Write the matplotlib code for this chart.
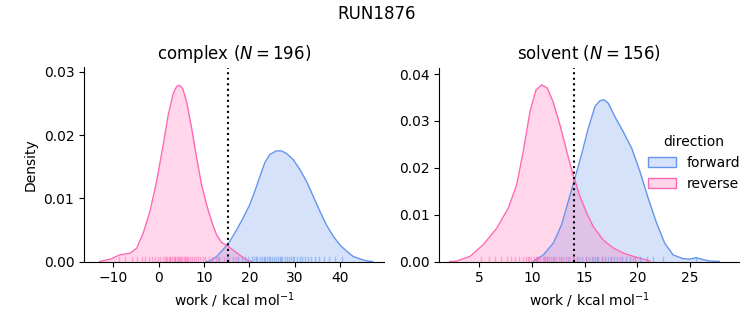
import numpy as np
import matplotlib
matplotlib.use('Agg')
import matplotlib.pyplot as plt
from matplotlib.patches import Patch
from matplotlib.colors import to_rgba

# colours used for the two directions
c_fwd = '#6495ED'
c_rev = '#FF69B4'

# ---- complex panel, density curves ----
cx_rev_x = [-13.0, -10.5, -8.53, -6.33, -4.85, -3.4, -1.92, -0.44, 1.01, 2.12, 3.22, 3.97,
            4.54, 5.29, 6.17, 7.28, 8.38, 9.48, 10.58, 11.69, 12.79, 13.9, 15.35, 16.8,
            18.3, 19.8, 20.5]
cx_rev_d = [0.0, 0.0004, 0.00106, 0.0013, 0.0021, 0.0045, 0.0079, 0.0127, 0.0185, 0.0232,
            0.0266, 0.0277, 0.0279, 0.0274, 0.0253, 0.0211, 0.0164, 0.0121, 0.0090,
            0.0063, 0.0042, 0.0030, 0.0024, 0.0016, 0.0008, 0.0001, 0.0]
cx_fwd_x = [10.5, 11.3, 12.8, 14.25, 15.7, 17.2, 18.65, 20.1, 21.2, 22.3, 23.4, 24.5,
            25.9, 27.1, 28.2, 29.7, 31.2, 32.6, 34.1, 35.6, 37.0, 38.5, 40.0, 41.5,
            42.9, 44.4, 45.8, 47.2]
cx_fwd_d = [0.0, 0.00005, 0.0008, 0.0019, 0.0032, 0.0050, 0.0069, 0.0090, 0.0111, 0.0134,
            0.0156, 0.0169, 0.0175, 0.0175, 0.0171, 0.0161, 0.0145, 0.0127, 0.0103,
            0.0079, 0.0058, 0.0040, 0.0026, 0.0016, 0.0008, 0.0004, 0.0001, 0.0]
# rug ticks (approximate sample positions)
cx_rev_rug = [-8.8, -7.5, -5.9, -4.8, -3.6, -2.9, -2.1, -1.5, -0.8, -0.2, 0.4, 0.9, 1.3,
              1.6, 1.8, 2.2, 2.4, 2.6, 3.0, 3.3, 3.5, 3.7, 4.0, 4.3, 4.6, 4.8, 4.9,
              5.2, 5.5, 5.8, 6.1, 6.3, 6.5, 6.9, 7.3, 7.7, 8.2, 8.6, 9.1, 9.7, 10.3,
              11.0, 11.8, 12.6, 13.4, 14.4, 15.6, 17.1]
cx_fwd_rug = [13.2, 15.0, 16.3, 17.4, 18.3, 19.1, 19.8, 20.5, 21.1, 21.4, 21.7, 22.3,
              22.9, 23.2, 23.4, 23.9, 24.4, 24.6, 24.9, 25.4, 25.9, 26.3, 26.8, 27.0,
              27.3, 27.8, 28.3, 28.8, 29.3, 29.6, 29.9, 30.5, 31.1, 31.7, 32.3, 33.0,
              33.7, 34.5, 35.4, 36.4, 37.6, 38.9, 40.4]
cx_dG = 15.4

# ---- solvent panel ----
sv_rev_x = [2.2, 2.86, 4.12, 5.38, 6.65, 7.75, 8.55, 9.17, 9.81, 10.38, 10.92, 11.45,
            12.0, 12.66, 13.3, 13.9, 14.55, 15.2, 15.8, 16.76, 17.7, 18.66, 19.9, 21.2]
sv_rev_d = [0.0, 0.0001, 0.0011, 0.0036, 0.0071, 0.0114, 0.0164, 0.0235, 0.0320, 0.0366,
            0.0377, 0.0370, 0.0341, 0.0291, 0.0235, 0.0185, 0.0139, 0.0103, 0.0075,
            0.0046, 0.0029, 0.0018, 0.0009, 0.0001]
sv_fwd_x = [10.12, 11.07, 12.02, 12.8, 13.44, 14.08, 14.7, 15.34, 15.98, 16.45, 16.83,
            17.24, 17.87, 18.66, 19.46, 20.25, 21.03, 21.83, 22.6, 23.4, 24.35, 24.95,
            25.6, 26.25, 26.9, 27.8]
sv_fwd_d = [0.0, 0.0014, 0.0039, 0.0078, 0.0128, 0.0178, 0.0228, 0.0284, 0.0331, 0.0343,
            0.0345, 0.0338, 0.0309, 0.0277, 0.0242, 0.0192, 0.0135, 0.0082, 0.0039,
            0.0014, 0.0006, 0.0005, 0.0008, 0.0004, 0.0001, 0.0]
sv_rev_rug = [5.2, 5.9, 6.5, 7.1, 7.6, 8.0, 8.4, 8.8, 9.1, 9.4, 9.6, 9.7, 9.9, 10.2,
              10.4, 10.5, 10.6, 10.8, 11.0, 11.1, 11.2, 11.4, 11.6, 11.8, 12.0, 12.3,
              12.6, 12.9, 13.2, 13.6, 14.0, 14.5, 15.1, 15.8, 16.6, 17.5, 18.4, 19.6]
sv_fwd_rug = [10.5, 11.4, 12.1, 12.8, 13.4, 13.9, 14.3, 14.7, 15.1, 15.4, 15.7, 16.0,
              16.2, 16.3, 16.6, 16.9, 17.2, 17.5, 17.8, 18.1, 18.5, 18.9, 19.3, 19.8,
              20.3, 20.9, 21.5, 22.4, 25.6]
sv_dG = 14.0

panels = [
    ('complex', 196, cx_fwd_x, cx_fwd_d, cx_rev_x, cx_rev_d, cx_fwd_rug, cx_rev_rug, cx_dG,
     (-16.46, 49.7), (0, 0.0307), [-10, 0, 10, 20, 30, 40], [0.0, 0.01, 0.02, 0.03]),
    ('solvent', 156, sv_fwd_x, sv_fwd_d, sv_rev_x, sv_rev_d, sv_fwd_rug, sv_rev_rug, sv_dG,
     (1.2, 29.68), (0, 0.0414), [5, 10, 15, 20, 25], [0.0, 0.01, 0.02, 0.03, 0.04]),
]

fig = plt.figure(figsize=(7.53, 3.25), dpi=100)
ax1 = fig.add_axes([84 / 753, 63.5 / 325, 300 / 753, 194 / 325])
ax2 = fig.add_axes([439.3 / 753, 63.5 / 325, 300 / 753, 194 / 325])

for ax, p in zip([ax1, ax2], panels):
    name, n, fx, fd, rx, rd, frug, rrug, dg, xl, yl, xt, yt = p
    for xs, ds, col in [(fx, fd, c_fwd), (rx, rd, c_rev)]:
        ax.fill_between(xs, ds, 0, color=col, alpha=0.27, linewidth=0)
        ax.plot(xs, ds, color=col, linewidth=1, solid_joinstyle='round')
    for rug, col in [(frug, c_fwd), (rrug, c_rev)]:
        for v in rug:
            ax.axvline(v, ymin=0, ymax=0.025, color=col, alpha=0.5, linewidth=1)
    ax.axvline(dg, color='k', linestyle=':', linewidth=1.5)
    ax.set_xlim(*xl)
    ax.set_ylim(*yl)
    ax.set_xticks(xt)
    ax.set_yticks(yt)
    ax.spines['top'].set_visible(False)
    ax.spines['right'].set_visible(False)
    ax.set_title(name + ' ($N=%d$)' % n, fontsize=12)
    ax.set_xlabel('work / kcal mol$^{-1}$')

ax1.set_ylabel('Density')

handles = [Patch(facecolor=to_rgba(c_fwd, 0.27), edgecolor=c_fwd, label='forward'),
           Patch(facecolor=to_rgba(c_rev, 0.27), edgecolor=c_rev, label='reverse')]
ax2.legend(handles=handles, title='direction', frameon=False, loc='center right',
           bbox_to_anchor=(1.045, 0.51))

fig.suptitle('RUN1876', fontsize=12, y=0.985)
fig.savefig('out.png', dpi=100)
